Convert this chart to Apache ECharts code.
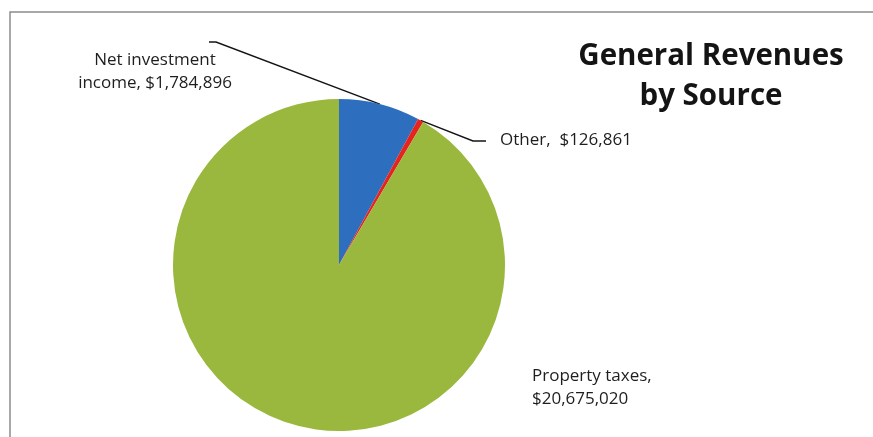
<!DOCTYPE html>
<html>
<head>
<meta charset="utf-8">
<script src="https://cdn.jsdelivr.net/npm/echarts@6/dist/echarts.min.js"></script>
<style>
  html, body { margin: 0; padding: 0; background: #fff; }
  #chart { width: 873px; height: 437px; }
</style>
</head>
<body>
<div id="chart"></div>
<script>
// Revenue sources and amounts (dollars)
const categories = ['Net investment\nincome', 'Other', 'Property taxes'];
const values = [1784896, 126861, 20675020];
// text placed between the source name and the amount in each label
const separators = [', $', ',  $', ',\n$'];
const colors = ['#2d6fbe', '#e52420', '#9ab83e'];

const fmt = v => v.toLocaleString('en-US');

// Where each label sits and how its leader line runs from the slice edge
const labelPlaces = [
  { x: 155, y: 72, align: 'center', line: p0 => [p0, [216, 42], [209, 42]] },
  { x: 500, y: 140, align: 'left', line: p0 => [p0, [473, 141], [486, 141]] },
  { x: 532, y: 388, align: 'left', line: null }
];

const chart = echarts.init(document.getElementById('chart'), null, { renderer: 'canvas' });

chart.setOption({
  backgroundColor: '#ffffff',
  animation: false,
  title: {
    text: 'General Revenues\nby Source',
    left: 706,
    top: 32,
    textAlign: 'center',
    textStyle: {
      fontFamily: 'Open Sans',
      fontWeight: 'bold',
      fontSize: 29.5,
      lineHeight: 40,
      color: '#141414'
    }
  },
  graphic: [{
    type: 'rect',
    silent: true,
    shape: { x: 10, y: 12, width: 900, height: 460 },
    style: { fill: null, stroke: '#8c8c8c', lineWidth: 1.5 }
  }],
  series: [{
    type: 'pie',
    center: [339, 265],
    radius: [0, 166],
    startAngle: 90,
    clockwise: true,
    avoidLabelOverlap: false,
    data: categories.map((name, i) => ({
      name: name,
      value: values[i],
      itemStyle: { color: colors[i] },
      labelLine: { show: labelPlaces[i].line !== null }
    })),
    itemStyle: { borderWidth: 0 },
    label: {
      show: true,
      position: 'outside',
      fontFamily: 'Open Sans',
      fontSize: 17,
      lineHeight: 23,
      color: '#1e1e1e',
      formatter: p => p.name + separators[p.dataIndex] + fmt(p.value)
    },
    labelLine: {
      show: true,
      lineStyle: { color: '#141414', width: 1.4 }
    },
    labelLayout: params => {
      const place = labelPlaces[params.dataIndex];
      const out = {
        x: place.x,
        y: place.y,
        align: place.align,
        verticalAlign: 'middle'
      };
      if (place.line && params.labelLinePoints) {
        out.labelLinePoints = place.line(params.labelLinePoints[0]);
      }
      return out;
    }
  }]
});
</script>
</body>
</html>
